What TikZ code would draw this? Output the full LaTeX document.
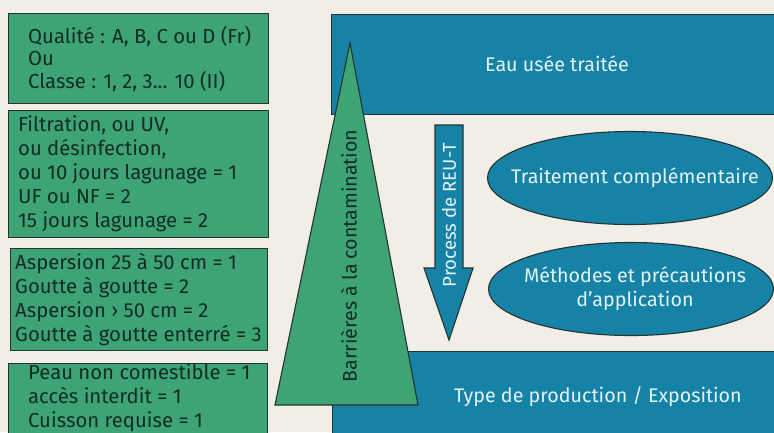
\documentclass[tikz,border=0pt]{standalone}
\usepackage{fontspec}
\setmainfont{Fira Sans}
\usetikzlibrary{shapes.geometric}
\definecolor{bgbeige}{RGB}{241,237,231}
\definecolor{boxgreen}{RGB}{62,164,117}
\definecolor{boxblue}{RGB}{22,131,166}
\definecolor{edgedark}{RGB}{35,52,48}
\definecolor{textgreen}{RGB}{18,46,30}
\definecolor{textlight}{RGB}{226,243,245}
\tikzset{
    greenbox/.style={draw=edgedark, line width=1.3pt, fill=boxgreen, anchor=north west, inner sep=0pt},
    greentext/.style={text=textgreen, anchor=west, align=left, inner sep=0pt,
        font=\fontsize{20.3}{24}\selectfont},
    bluebox/.style={draw=edgedark, line width=1.3pt, fill=boxblue, anchor=north west, inner sep=0pt},
    bluetext/.style={text=textlight, align=center, inner sep=0pt,
        font=\fontsize{19.7}{24}\selectfont},
    blueoval/.style={ellipse, draw=edgedark, line width=1.1pt, fill=boxblue,
        minimum width=285, minimum height=93, inner sep=0pt}
}

\begin{document}
\begin{tikzpicture}[x=1pt, y=-1pt]
        \fill[bgbeige] (0,0) rectangle (774,432);
        \clip (0,0) rectangle (774,432);

        % blue blocks on the right
        \node[bluebox, minimum width=470, minimum height=100] (eau) at (331,14) {};
        \node[bluetext] (eautxt) at (557,64) {Eau usée traitée};
        \node[bluebox, minimum width=470, minimum height=100] (prod) at (332,351) {};
        \node[bluetext] (prodtxt) at (598,397) {Type de production / Exposition};

        % triangle of the barriers
        \draw[draw=edgedark, line width=1.1pt, fill=boxgreen] (350,43) -- (418,405) -- (275,405) -- cycle;
        \node[rotate=90, text=textgreen, font=\fontsize{19.6}{24}\selectfont] (barr) at (349,256) {Barrières à la contamination};

        % process arrow
        \draw[draw=edgedark, line width=1.1pt, fill=boxblue] (435,125) -- (463,125) -- (463,268) -- (473,268)
            -- (449,340) -- (424,268) -- (435,268) -- cycle;
        \node[rotate=90, text=textlight, font=\fontsize{18.6}{22}\selectfont] (proc) at (449,215) {Process de REU-T};

        % ovals
        \node[blueoval] (trait) at (630,178) {};
        \node[bluetext] (traittxt) at (635,178) {Traitement complémentaire};
        \node[blueoval] (meth) at (631,289) {};
        \node[bluetext] (methtxt) at (635,289) {Méthodes et précautions\\d'application};

        % green boxes on the left
        \node[greenbox, minimum width=260, minimum height=90] (qual) at (8,13) {};
        \node[greentext, font=\fontsize{20.3}{22.5}\selectfont] (qualtxt) at ([xshift=20pt]qual.west)
            {Qualité : A, B, C ou D (Fr)\\Ou\\Classe : 1, 2, 3... 10 (II)};
        \node[greenbox, minimum width=260, minimum height=127] (filt) at (8,110) {};
        \node[greentext] (filttxt) at ([xshift=10pt]filt.west)
            {Filtration, ou UV,\\ou désinfection,\\ou 10 jours lagunage = 1\\UF ou NF = 2\\15 jours lagunage = 2};
        \node[greenbox, minimum width=257, minimum height=102] (asp) at (10,248) {};
        \node[greentext] (asptxt) at ([xshift=5pt]asp.west)
            {Aspersion 25 à 50 cm = 1\\Goutte à goutte = 2\\Aspersion › 50 cm = 2\\Goutte à goutte enterré = 3};
        \node[greenbox, minimum width=259, minimum height=72] (peau) at (8,363) {};
        \node[greentext] (peautxt) at ([xshift=20pt, yshift=1.5pt]peau.west)
            {Peau non comestible = 1\\accès interdit = 1\\Cuisson requise = 1};
\end{tikzpicture}
\end{document}
